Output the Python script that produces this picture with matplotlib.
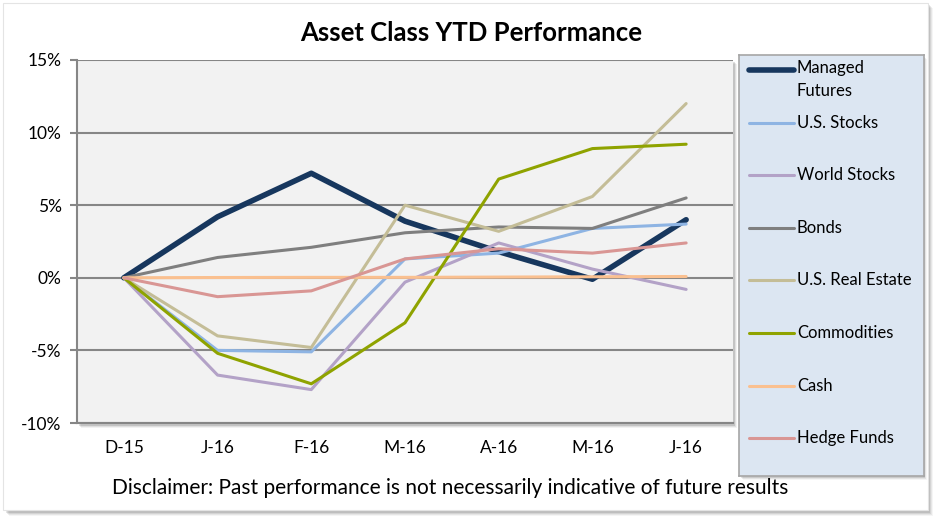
import matplotlib
matplotlib.use("Agg")
import numpy as np
from matplotlib import pyplot as plt
from matplotlib.patches import Rectangle
from matplotlib.lines import Line2D

# data (YTD % performance)
months = ["D-15", "J-16", "F-16", "M-16", "A-16", "M-16", "J-16"]

managed_futures = [0.0, 4.2, 7.2, 3.9, 1.8, -0.1, 4.0]
us_stocks = [0.0, -5.0, -5.1, 1.3, 1.7, 3.4, 3.7]
world_stocks = [0.0, -6.7, -7.7, -0.3, 2.4, 0.6, -0.8]
bonds = [0.0, 1.4, 2.1, 3.1, 3.5, 3.4, 5.5]
us_real_estate = [0.0, -4.0, -4.8, 5.0, 3.2, 5.6, 12.0]
commodities = [0.0, -5.2, -7.3, -3.1, 6.8, 8.9, 9.2]
cash = [0.0, 0.02, 0.03, 0.03, 0.05, 0.07, 0.09]
hedge_funds = [0.0, -1.3, -0.9, 1.3, 2.0, 1.7, 2.4]

names = ["Managed\nFutures", "U.S. Stocks", "World Stocks", "Bonds",
         "U.S. Real Estate", "Commodities", "Cash", "Hedge Funds"]
series = [managed_futures, us_stocks, world_stocks, bonds,
          us_real_estate, commodities, cash, hedge_funds]
colors = ["#17375E", "#8EB4E3", "#B3A2C7", "#7F7F7F",
          "#C4BD97", "#8FA300", "#FAC090", "#D99694"]
widths = [4.0, 2.2, 2.2, 2.2, 2.2, 2.2, 2.2, 2.2]

plt.rcParams['font.family'] = ['Lato', 'DejaVu Sans']

W, H = 941, 523
fig = plt.figure(figsize=(W / 100, H / 100), dpi=100)
fig.patch.set_facecolor("white")

def fx(px):
    return px / W

def fy(py):
    return 1 - py / H

# outer frame with a soft shadow
for i, a in enumerate([0.10, 0.08, 0.06, 0.04]):
    fig.patches.append(Rectangle((fx(4 + i + 2), fy(511 + i + 2)), fx(924), 508 / H,
                                 transform=fig.transFigure, facecolor="#000000", alpha=a,
                                 edgecolor="none", zorder=0))
fig.patches.append(Rectangle((fx(3), fy(510)), fx(925), 507 / H, transform=fig.transFigure,
                             facecolor="white", edgecolor="#E4E4E4", lw=0.8, zorder=1))

# plot area shadow
for i, a in enumerate([0.12, 0.08, 0.05]):
    fig.patches.append(Rectangle((fx(79 + i), fy(426 + i)), fx(656), 364 / H,
                                 transform=fig.transFigure, facecolor="#000000", alpha=a,
                                 edgecolor="none", zorder=1))

ax = fig.add_axes([fx(77), fy(423), fx(656), 363 / H])
ax.set_facecolor("#F2F2F2")
ax.set_zorder(3)

x = np.arange(len(months))
for vals, c, lw in zip(series, colors, widths):
    ax.plot(x, vals, color=c, lw=lw, solid_capstyle="round", solid_joinstyle="round")

ax.set_xlim(-0.5, len(months) - 0.5)
ax.set_ylim(-10, 15)
ax.set_yticks(np.arange(-10, 16, 5))
ax.set_yticklabels([f"{v}%" for v in range(-10, 16, 5)])
ax.set_xticks(x)
ax.set_xticklabels(months)
ax.yaxis.grid(True, color="#868686", lw=1.5)
ax.set_axisbelow(True)
for s in ["top", "right"]:
    ax.spines[s].set_visible(False)
for s in ["left", "bottom"]:
    ax.spines[s].set_color("#868686")
    ax.spines[s].set_linewidth(1.5)
ax.tick_params(axis="y", length=5, width=1.5, color="#868686", labelsize=12.5, pad=6)
ax.tick_params(axis="x", length=0, labelsize=12.5, pad=12)

fig.text(fx(471), fy(33), "Asset Class YTD Performance", ha="center", va="center",
         fontsize=18.5, fontweight="bold")
fig.text(fx(450), fy(488), "Disclaimer: Past performance is not necessarily indicative of future results",
         ha="center", va="center", fontsize=15)

# legend panel
for i, a in enumerate([0.10, 0.07, 0.04]):
    fig.patches.append(Rectangle((fx(741 + i), fy(478 + i)), fx(184), 421 / H,
                                 transform=fig.transFigure, facecolor="#000000", alpha=a,
                                 edgecolor="none", zorder=2))
lax = fig.add_axes([fx(739), fy(476), fx(185), 421 / H])
lax.set_zorder(4)
lax.set_facecolor("#DCE6F2")
lax.set_xlim(0, 185)
lax.set_ylim(476, 55)
lax.set_xticks([])
lax.set_yticks([])
for s in lax.spines.values():
    s.set_color("#A6A6A6")
    s.set_linewidth(1.2)

entry_y = [70, 123, 175, 228, 280, 333, 386, 438]
for name, c, lw, yy in zip(names, colors, widths, entry_y):
    lax.add_line(Line2D([10, 55], [yy, yy], color=c, lw=lw, solid_capstyle="round"))
    lax.text(58, yy - 10 if "\n" in name else yy, name, va="top" if "\n" in name else "center",
             fontsize=12, linespacing=1.55)

fig.savefig("out.png", dpi=100)
